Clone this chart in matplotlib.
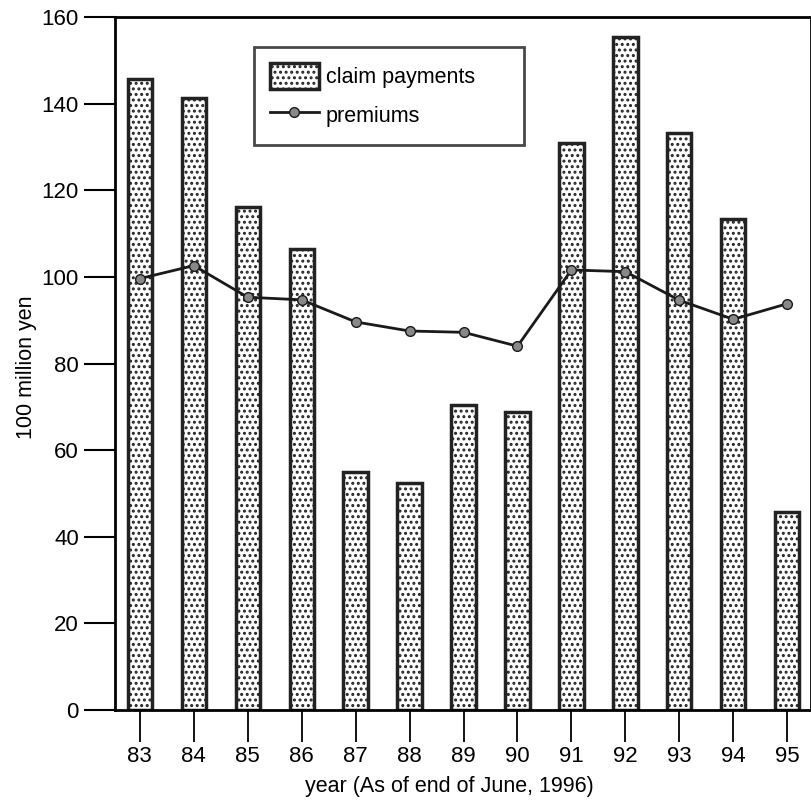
import matplotlib.pyplot as plt
import numpy as np

# 字体设置
plt.rcParams['font.family'] = ['Liberation Sans', 'DejaVu Sans']
plt.rcParams['hatch.linewidth'] = 1.4
plt.rcParams['hatch.color'] = '#333333'

years = ['83', '84', '85', '86', '87', '88', '89', '90', '91', '92', '93', '94', '95']
claim_payments = [145.7, 141.4, 116.2, 106.5, 55.0, 52.3, 70.5, 68.8,
                  131.0, 155.3, 133.2, 113.4, 45.8]
premiums = [99.6, 102.6, 95.3, 94.7, 89.6, 87.5, 87.2, 84.0,
            101.6, 101.2, 94.6, 90.2, 93.8]
y_ticks = [0, 20, 40, 60, 80, 100, 120, 140, 160]

x = np.arange(len(years))

fig = plt.figure(figsize=(8.11, 8.02), dpi=100)
ax = fig.add_axes([115 / 811, 1 - 710 / 802, 696 / 811, 693 / 802])

bars = ax.bar(x, claim_payments, width=0.45, color='white', edgecolor='#222222',
              linewidth=2.5, hatch='...', label='claim payments', zorder=2)
line, = ax.plot(x, premiums, color='#1a1a1a', linewidth=2, marker='o',
                markersize=7, markerfacecolor='#888888',
                markeredgecolor='#1a1a1a', label='premiums', zorder=3)

ax.set_xlim(-0.46, len(years) - 1 + 0.44)
ax.set_ylim(0, 160)
ax.set_xticks(x)
ax.set_xticklabels(years)
ax.set_yticks(y_ticks)

ax.tick_params(axis='y', direction='out', length=22, width=1.5, pad=4,
               labelsize=16)
ax.tick_params(axis='x', direction='out', length=23, width=1.3, pad=3,
               labelsize=16)
for side in ['left', 'bottom', 'top', 'right']:
    ax.spines[side].set_linewidth(2)

ax.set_xlabel('year (As of end of June, 1996)', fontsize=15.5)
ax.xaxis.set_label_coords(0.48, -0.095)
ax.set_ylabel('100 million yen', fontsize=15.5)
ax.yaxis.set_label_coords(-0.112, 0.495)

leg = ax.legend([bars, line], ['claim payments', 'premiums'],
                loc='upper left', bbox_to_anchor=(0.199, 0.814, 0.389, 0.143),
                mode='expand', fontsize=15.5, frameon=True, fancybox=False,
                handlelength=2.3, handleheight=1.5, handletextpad=0.3,
                borderpad=0.75, labelspacing=0.6, borderaxespad=0)
leg.get_frame().set_edgecolor('#1a1a1a')
leg.get_frame().set_linewidth(2)

fig.savefig('out.png', dpi=100)
